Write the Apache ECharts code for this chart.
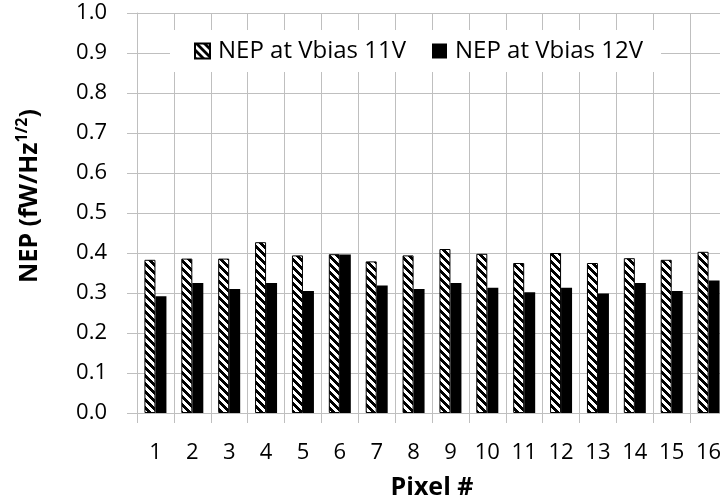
<!DOCTYPE html>
<html>
<head>
<meta charset="utf-8">
<script src="https://cdn.jsdelivr.net/npm/echarts@6/dist/echarts.min.js"></script>
<style>
  html, body { margin: 0; padding: 0; background: #fff; }
  #chart { width: 720px; height: 499px; }
</style>
</head>
<body>
<div id="chart"></div>
<script>
// pixel numbers on the x axis
const pixels = ['1','2','3','4','5','6','7','8','9','10','11','12','13','14','15','16'];
// NEP values (fW/Hz^1/2)
const nep11V = [0.383, 0.386, 0.386, 0.427, 0.394, 0.397, 0.379, 0.394, 0.410, 0.398, 0.375, 0.400, 0.375, 0.387, 0.383, 0.403];
const nep12V = [0.292, 0.325, 0.310, 0.325, 0.305, 0.396, 0.319, 0.310, 0.325, 0.313, 0.302, 0.313, 0.299, 0.325, 0.305, 0.331];

const FONT = 'Open Sans';
const GRID = '#bfbfbf';

// wide downward diagonal hatch, like the excel pattern fill
function hatch() {
  const c = document.createElement('canvas');
  c.width = 8; c.height = 8;
  const ctx = c.getContext('2d');
  ctx.fillStyle = '#fff';
  ctx.fillRect(0, 0, 8, 8);
  ctx.fillStyle = '#000';
  for (let y = 0; y < 8; y++) {
    for (let x = 0; x < 8; x++) {
      if (((x - y + 8) % 8) < 4) ctx.fillRect(x, y, 1, 1);
    }
  }
  return c;
}

const chart = echarts.init(document.getElementById('chart'));
const option = {
  animation: false,
  // the plot runs past the right edge, like the cropped original
  grid: { left: 137, top: 13, width: 590, height: 400, containLabel: false, outerBoundsMode: 'none' },
  legend: {
    left: 170, top: 30,
    padding: [9, 18, 9, 24],
    backgroundColor: '#fff',
    itemGap: 26, itemWidth: 15, itemHeight: 15,
    icon: 'rect',
    textStyle: { fontFamily: FONT, fontSize: 24, color: '#000', padding: [0, 0, 0, 3] },
    data: ['NEP at Vbias 11V', 'NEP at Vbias 12V']
  },
  xAxis: {
    type: 'category',
    data: pixels,
    name: 'Pixel #',
    nameLocation: 'middle',
    nameGap: 62,
    nameTextStyle: { fontFamily: FONT, fontSize: 25, fontWeight: 'bold', color: '#000' },
    axisLine: { lineStyle: { color: GRID } },
    axisTick: { show: true, length: 10, lineStyle: { color: GRID } },
    axisLabel: { margin: 29, fontFamily: FONT, fontSize: 22, color: '#000' },
    splitLine: { show: true, lineStyle: { color: GRID } }
  },
  yAxis: {
    type: 'value',
    min: 0, max: 1, interval: 0.1,
    axisLine: { show: true, lineStyle: { color: GRID } },
    axisTick: { show: true, length: 10, lineStyle: { color: GRID } },
    axisLabel: { margin: 30, fontFamily: FONT, fontSize: 22, color: '#000',
      formatter: v => v.toFixed(1) },
    splitLine: { show: true, lineStyle: { color: GRID } }
  },
  graphic: [{
    type: 'text',
    x: 28, y: 196,
    rotation: Math.PI / 2,
    style: {
      text: '{a|NEP (fW/Hz}{s|1/2}{a|)}',
      align: 'center', verticalAlign: 'middle',
      rich: {
        a: { fontFamily: FONT, fontSize: 25, fontWeight: 'bold', fill: '#000', lineHeight: 28, verticalAlign: 'bottom' },
        s: { fontFamily: FONT, fontSize: 16, fontWeight: 'bold', fill: '#000', lineHeight: 18, verticalAlign: 'top' }
      }
    }
  }],
  series: [
    {
      name: 'NEP at Vbias 11V',
      type: 'bar',
      data: nep11V,
      barWidth: 11,
      barGap: '0%',
      itemStyle: { color: { image: hatch(), repeat: 'repeat' }, borderColor: '#000', borderWidth: 1 }
    },
    {
      name: 'NEP at Vbias 12V',
      type: 'bar',
      data: nep12V,
      barWidth: 11,
      itemStyle: { color: '#000' }
    }
  ]
};
chart.setOption(option);
</script>
</body>
</html>
